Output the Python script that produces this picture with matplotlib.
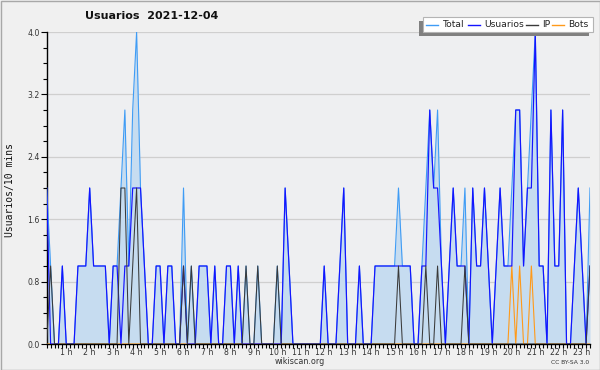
import matplotlib
matplotlib.use("Agg")
import matplotlib.pyplot as plt
import matplotlib.transforms as mtransforms
from matplotlib.patches import Rectangle
from matplotlib.lines import Line2D
import numpy as np

# ---- data (10-minute slots from 00:00) ----
usuarios = [2,0,0,0,1,0,0,0,1,1, 1,2,1,1,1,1,0,1,1,0,
            1,1,2,2,2,1,0,0,1,1, 0,1,1,0,0,1,0,0,0,1,
            1,1,0,1,0,0,1,1,0,1, 0,0,0,0,0,0,0,0,0,0,
            0,2,1,0,0,0,0,0,0,0, 0,1,0,0,0,1,2,0,0,0,
            1,0,0,0,1,1,1,1,1,1, 1,1,1,1,0,0,1,1,3,2,
            2,1,0,1,2,1,1,1,0,2, 1,1,2,1,0,1,2,1,1,1,
            3,3,1,2,2,4,1,1,0,3, 1,1,3,0,0,1,2,1,0,1]
ip = [0,1,0,0,0,0,0,0,0,0, 0,0,0,0,0,0,0,0,0,2,
      2,0,1,2,0,0,0,0,0,0, 0,0,0,0,0,1,0,1,0,0,
      0,0,0,0,0,0,0,0,0,0, 0,1,0,0,1,0,0,0,0,1,
      0,0,0,0,0,0,0,0,0,0, 0,0,0,0,0,0,0,0,0,0,
      0,0,0,0,0,0,0,0,0,0, 1,0,0,0,0,0,0,1,0,0,
      1,0,0,0,0,0,0,1,0,0, 0,0,0,0,0,0,0,0,0,0,
      0,0,0,0,0,0,0,0,0,0, 0,0,0,0,0,0,0,0,0,1]
bots = [0,0,0,0,0,0,0,0,0,0, 0,0,0,0,0,0,0,0,0,0,
        0,0,0,0,0,0,0,0,0,0, 0,0,0,0,0,0,0,0,0,0,
        0,0,0,0,0,0,0,0,0,0, 0,0,0,0,0,0,0,0,0,0,
        0,0,0,0,0,0,0,0,0,0, 0,0,0,0,0,0,0,0,0,0,
        0,0,0,0,0,0,0,0,0,0, 0,0,0,0,0,0,0,0,0,0,
        0,0,0,0,0,0,0,0,0,0, 0,0,0,0,0,0,0,0,0,1,
        0,1,0,0,1,0,0,0,0,0, 0,0,0,0,0,0,0,0,0,0]
total = [2,1,0,0,1,0,0,0,1,1, 1,2,1,1,1,1,0,1,1,2,
         3,1,3,4,2,1,0,0,1,1, 0,1,1,0,0,2,0,1,0,1,
         1,1,0,1,0,0,1,1,0,1, 0,1,0,0,1,0,0,0,0,1,
         0,2,1,0,0,0,0,0,0,0, 0,1,0,0,0,1,2,0,0,0,
         1,0,0,0,1,1,1,1,1,1, 2,1,1,1,0,0,1,2,3,2,
         3,1,0,1,2,1,1,2,0,2, 1,1,2,1,0,1,2,1,1,2,
         3,3,1,2,3,4,1,1,0,3, 1,1,3,0,0,1,2,1,0,2]
hours = list(range(1, 24))
hour_labels = [f"{h} h" for h in hours]
yticks = [0.0, 0.8, 1.6, 2.4, 3.2, 4.0]

W, H = 600, 370
fig = plt.figure(figsize=(W/100, H/100), dpi=100)
fig.patch.set_facecolor("#f0f0f0")

def fx(px): return px / W
def fy(py): return 1 - py / H

# outer border
fig.add_artist(Rectangle((0.5/W, 0.5/H), 1 - 1/W, 1 - 1/H, transform=fig.transFigure,
                         fill=False, edgecolor="#a8a8a8", lw=1))

x0, x1, ytop, ybot = 46.7, 590, 32, 344
ax = fig.add_axes([fx(x0), fy(ybot), (x1 - x0)/W, (ybot - ytop)/H])
ax.set_facecolor("#eeeff1")
idx = np.arange(len(total))

ax.fill_between(idx, 0, total, color="#c6dcf0", lw=0, zorder=1)
ax.plot(idx, total, color="#3f9cf5", lw=0.8, zorder=3)
ax.plot(idx, bots, color="#ff9a1a", lw=0.8, zorder=4)
ax.plot(idx, usuarios, color="#1414ff", lw=0.85, zorder=5)
ax.plot(idx, ip, color="#3a3a3a", lw=0.75, zorder=6)

ax.set_xlim(0, len(total) - 1)
ax.set_ylim(0, 4.0)
for v in yticks[1:]:
    ax.axhline(v, color="#cfcfcf", lw=0.9, zorder=0.5)

ax.set_yticks(yticks)
ax.set_yticklabels([f"{v:.1f}" for v in yticks])
ax.set_yticks(np.arange(0, 4.01, 0.2), minor=True)
ax.set_xticks([6*h for h in hours])
ax.set_xticklabels(hour_labels)
ax.set_xticks(idx, minor=True)
ax.tick_params(axis="y", which="major", length=4.5, width=0.8, pad=0.5,
               labelsize=5.6, labelcolor="#333333", colors="#000000")
ax.tick_params(axis="y", which="minor", length=3, width=0.8)
ax.tick_params(axis="x", which="both", length=2.8, width=0.8, pad=0.3,
               labelsize=5.6, labelcolor="#333333")
for lab in ax.get_yticklabels():
    lab.set_color("#333333")
off = mtransforms.ScaledTranslation(-4/100, 0, fig.dpi_scale_trans)
for lab in ax.get_xticklabels():
    lab.set_transform(lab.get_transform() + off)

for s in ["top", "right"]:
    ax.spines[s].set_visible(False)
for s in ["left", "bottom"]:
    ax.spines[s].set_color("#000000")
    ax.spines[s].set_linewidth(1.0)

# title & labels
fig.text(fx(85), fy(16), "Usuarios  2021-12-04", fontsize=8.0, fontweight="bold",
         ha="left", va="center", color="#111111")
fig.text(fx(10), fy(190), "Usuarios/10 mins", rotation=90, fontsize=7,
         family="DejaVu Sans Mono", ha="center", va="center", color="#111111")
fig.text(fx(300), fy(361), "wikiscan.org", fontsize=5.8, ha="center", va="center",
         color="#333333")
fig.text(fx(589), fy(363), "CC BY-SA 3.0", fontsize=4.3, ha="right", va="center",
         color="#333333")

# legend with shadow
lx0, lx1, ly0, ly1 = 423, 593, 17, 32
fig.add_artist(Rectangle((fx(lx0 - 4), fy(ly1 + 4)), (lx1 - lx0)/W, (ly1 - ly0)/H,
                         transform=fig.transFigure, facecolor="#808080", edgecolor="none"))
fig.add_artist(Rectangle((fx(lx0), fy(ly1)), (lx1 - lx0)/W, (ly1 - ly0)/H,
                         transform=fig.transFigure, facecolor="#ffffff",
                         edgecolor="#b4b4b4", lw=0.8))
items = [("Total", "#3f9cf5", 425.7, 437.7, 442.7),
         ("Usuarios", "#1414ff", 467.7, 480, 484),
         ("IP", "#3a3a3a", 526, 537.7, 542),
         ("Bots", "#ff9a1a", 551.7, 564, 568.3)]
for name, col, a, b, t in items:
    fig.add_artist(Line2D([fx(a), fx(b)], [fy(24.5), fy(24.5)], transform=fig.transFigure,
                          color=col, lw=1.0))
    fig.text(fx(t), fy(24.5), name, fontsize=6.6, ha="left", va="center", color="#222222")

fig.savefig("out.png", dpi=100, facecolor=fig.get_facecolor())
